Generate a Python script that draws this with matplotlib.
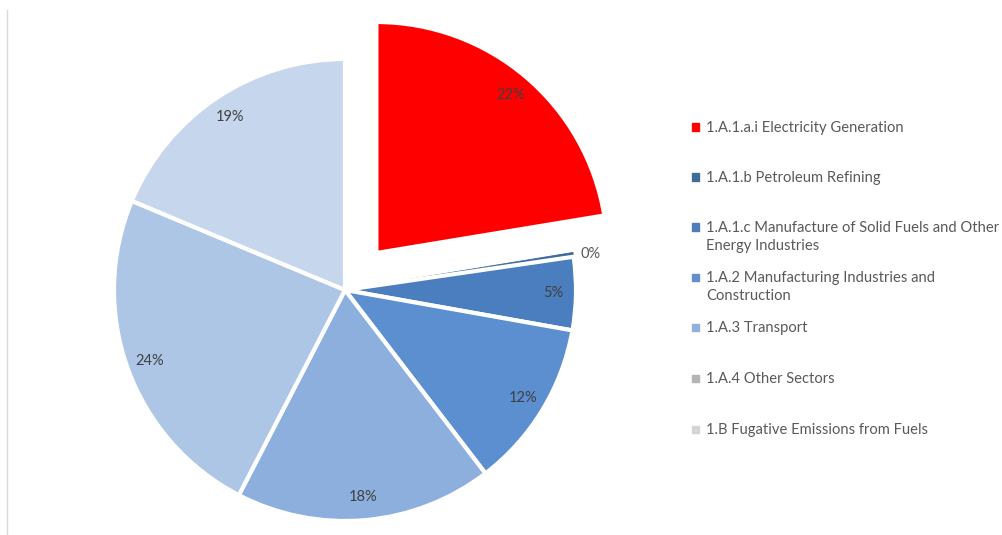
import matplotlib.pyplot as plt
from matplotlib.patches import Rectangle
from matplotlib.lines import Line2D
import numpy as np

plt.rcParams['font.family'] = ['Lato', 'DejaVu Sans']

categories = [
    "1.A.1.a.i Electricity Generation",
    "1.A.1.b Petroleum Refining",
    "1.A.1.c Manufacture of Solid Fuels and Other\nEnergy Industries",
    "1.A.2 Manufacturing Industries and\nConstruction",
    "1.A.3 Transport",
    "1.A.4 Other Sectors",
    "1.B Fugative Emissions from Fuels",
]
shares = [22.4, 0.3, 5.1, 11.8, 18.0, 23.7, 18.7]

slice_colors = ["#FF0000", "#3E6A9A", "#4A7EBE", "#5B8FD0", "#8CAFDD", "#ADC6E6", "#C6D6EC"]
legend_colors = ["#FF0000", "#3E6D96", "#4F7DB8", "#6390C8", "#90B0DA", "#B4B4B4", "#D4D4D4"]

W, H = 1003, 535
R = 231.0            # pie radius in pixels
cx, cy = 345, 245    # pie centre in pixels from bottom-left

fig = plt.figure(figsize=(W / 100, H / 100), dpi=100)
ax = fig.add_axes([0, 0, 1, 1])

explode = [0.21, 0, 0, 0, 0, 0, 0]
wedges, texts, autotexts = ax.pie(
    shares, colors=slice_colors, explode=explode, startangle=90,
    counterclock=False, autopct='%.0f%%', pctdistance=0.9,
    wedgeprops=dict(edgecolor='white', linewidth=3),
    textprops=dict(color='#404040', fontsize=10.5))

# the tiny refining slice keeps its own outline so it stays visible
wedges[1].set_edgecolor(slice_colors[1])
wedges[1].set_linewidth(0.6)

# move the near-zero label just outside the pie
t = autotexts[1]
ang = np.deg2rad(90 - 3.6 * (shares[0] + shares[1] / 2))
t.set_position((1.03 * np.cos(ang), 1.03 * np.sin(ang)))
t.set_ha('left')
t.set_va('center')
t.set_color('#595959')

ax.set_aspect('auto')
ax.set_xlim(-cx / R, (W - cx) / R)
ax.set_ylim(-cy / R, (H - cy) / R)
ax.axis('off')

# legend drawn by hand so wrapped entries keep the fixed row spacing
rows_y = [127, 177, 227, 277, 327, 378, 429]
for lab, col, y in zip(categories, legend_colors, rows_y):
    fig.patches.append(Rectangle(((692) / W, (H - y - 3.5) / H), 7 / W, 7 / H,
                                 transform=fig.transFigure, color=col))
    fig.text(706 / W, (H - y + 6) / H, lab, ha='left', va='top',
             fontsize=10.6, color='#595959', linespacing=1.35)

fig.lines.append(Line2D([7 / W, 7 / W], [0, (H - 10) / H],
                        transform=fig.transFigure, color='#D9D9D9', lw=1))

fig.savefig('out.png', dpi=100, facecolor='white')
